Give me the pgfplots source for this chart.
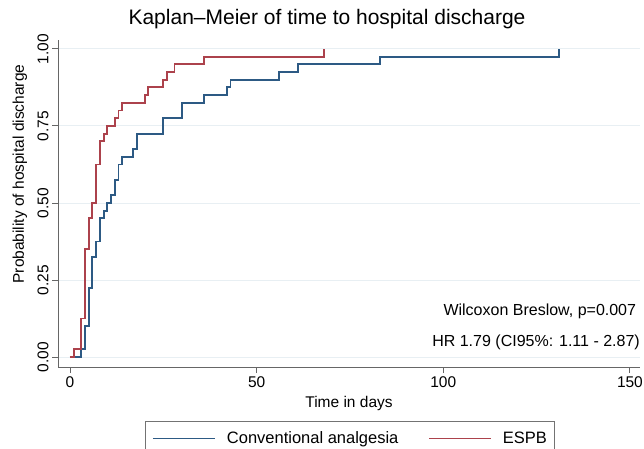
\documentclass[border=0pt]{standalone}
\usepackage{pgfplots}
\pgfplotsset{compat=1.18}
\usepackage{fontspec}
\setmainfont{Liberation Sans}
\definecolor{kmblue}{RGB}{45,90,132}
\definecolor{kmred}{RGB}{172,66,76}
\definecolor{gridc}{RGB}{232,239,243}
\begin{document}
\begin{tikzpicture}[x=1pt,y=1pt]
\path[use as bounding box] (0,0) rectangle (644,448);
\clip (0,0) rectangle (644,448);
\node[font=\fontsize{21}{24}\selectfont, anchor=base] at (327,423) {Kaplan–Meier of time to hospital discharge};
\begin{axis}[
  at={(58pt,81pt)}, anchor=south west,
  scale only axis, width=582pt, height=327pt,
  xmin=-3.21, xmax=152.7, ymin=-0.0325, ymax=1.029,
  axis x line*=bottom, axis y line*=left,
  axis line style={draw=black!60, line width=0.9pt},
  tick align=outside, major tick length=6pt,
  tick style={draw=black!60, line width=0.9pt},
  xtick={0,50,100,150}, ytick={0,0.25,0.5,0.75,1},
  ymajorgrids, major grid style={draw=gridc, line width=0.9pt},
  /pgf/number format/assume math mode=true,
  ticklabel style={font=\fontsize{15.5}{18}\selectfont},
  yticklabel style={/pgf/number format/fixed, /pgf/number format/fixed zerofill, /pgf/number format/precision=2, rotate=90, anchor=south},
  xticklabel style={/pgf/number format/fixed},
  xlabel={Time in days},
  ylabel={Probability of hospital discharge},
  label style={font=\fontsize{15.5}{18}\selectfont},
  xlabel style={at={(axis description cs:0.5,-0.113)}, anchor=center},
  ylabel style={at={(axis description cs:-0.0653,0.59)}, anchor=center, rotate=0},
  legend columns=2,
  legend style={at={(rel axis cs:0.1495,-0.1651)}, anchor=north west,
    draw=black!55, line width=0.8pt, font=\fontsize{16.5}{19}\selectfont,
    inner xsep=7pt, inner ysep=9pt,
    nodes={inner xsep=0pt, inner ysep=1pt},
    /tikz/every even column/.append style={column sep=30pt}},
  legend image code/.code={\draw[#1,line width=1.1pt] (0pt,0pt) -- (62pt,0pt); \path (73pt,0pt);},
  clip=false,
]
\addplot[const plot mark left, color=kmblue, line width=1.9pt] coordinates {
(0,0) (3,0.025) (4,0.1) (5,0.225) (6,0.325) (7,0.375) (8,0.45) (9,0.475) (10,0.5) (11,0.525) (12,0.575) (13,0.625) (14,0.65) (17,0.675) (18,0.725) (25,0.775) (30,0.825) (36,0.85) (42,0.875) (43,0.9) (56,0.925) (61,0.95) (83,0.975) (131,1.0)
};
\addlegendentry{Conventional analgesia}
\addplot[const plot mark left, color=kmred, line width=1.9pt] coordinates {
(0,0) (1,0.025) (3,0.125) (4,0.35) (5,0.45) (6,0.5) (7,0.625) (8,0.7) (9,0.725) (10,0.75) (12,0.775) (13,0.8) (14,0.825) (20,0.85) (21,0.875) (25,0.9) (26,0.925) (28,0.95) (36,0.975) (68,1.0)
};
\addlegendentry{ESPB}
\node[anchor=base east, inner sep=0pt, font=\fontsize{16}{19}\selectfont] at (axis cs:151.7,0.136) {Wilcoxon Breslow, p=0.007};
\node[anchor=base east, inner sep=0pt, font=\fontsize{16}{19}\selectfont] at (axis cs:152.7,0.035) {HR 1.79 (CI95\%: 1.11 - 2.87)};
\end{axis}
\end{tikzpicture}
\end{document}
